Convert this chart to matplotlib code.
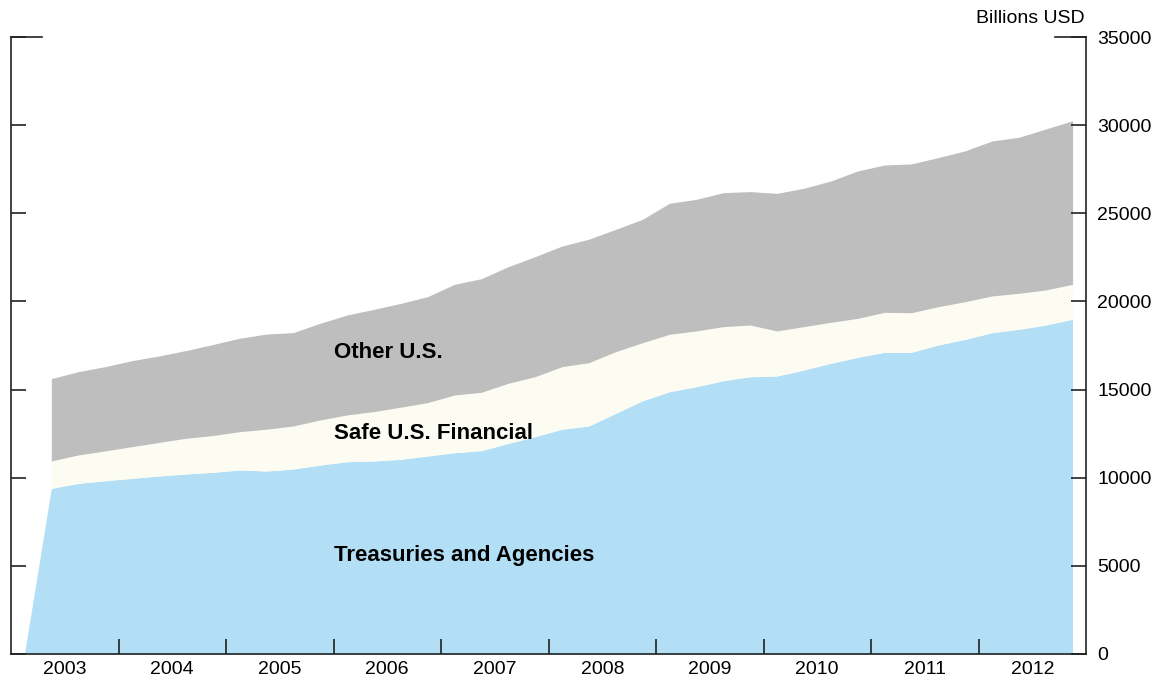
import matplotlib.pyplot as plt
import numpy as np

plt.rcParams['font.family'] = ['Liberation Sans', 'DejaVu Sans']

# Quarterly data, 2003Q1 - 2012Q4 (billions USD)
quarters = [f"{y}Q{q}" for y in range(2003, 2013) for q in range(1, 5)]

treasuries = [0, 9400, 9680, 9830, 9965, 10100, 10210, 10305, 10440, 10380,
              10495, 10720, 10910, 10950, 11045, 11230, 11420, 11535, 11950, 12330,
              12750, 12935, 13655, 14370, 14880, 15165, 15505, 15730, 15770, 16110,
              16490, 16830, 17115, 17115, 17530, 17850, 18230, 18420, 18660, 18990]

safe_financial = [np.nan, 1550, 1610, 1690, 1795, 1900, 2025, 2085, 2170, 2370,
                  2440, 2555, 2650, 2800, 2955, 3030, 3270, 3310, 3405, 3400,
                  3550, 3590, 3495, 3290, 3255, 3160, 3065, 2930, 2555, 2460,
                  2325, 2210, 2265, 2245, 2170, 2135, 2080, 2040, 1990, 1980]

other_us = [np.nan, 4670, 4725, 4780, 4880, 4905, 4975, 5160, 5300, 5400,
            5295, 5485, 5670, 5800, 5890, 6010, 6280, 6445, 6615, 6810,
            6840, 7005, 6940, 7000, 7435, 7465, 7600, 7570, 7805, 7850,
            8015, 8360, 8360, 8440, 8460, 8555, 8790, 8850, 9130, 9280]

series_labels = ["Treasuries and Agencies", "Safe U.S. Financial", "Other U.S."]
colors = ["#b2dff5", "#fcfcf2", "#bebebe"]

# quarter midpoints as decimal years
x = np.array([int(s[:4]) + (int(s[-1]) - 0.5) / 4 for s in quarters])
t = np.array(treasuries, dtype=float)
s = np.array(safe_financial, dtype=float)
o = np.array(other_us, dtype=float)

fig = plt.figure(figsize=(11.63, 6.89), dpi=100)
ax = fig.add_axes([11 / 1163, 35 / 689, 1075 / 1163, 617 / 689])

ax.fill_between(x, 0, t, color=colors[0], lw=0)
ax.fill_between(x, t, t + s, color=colors[1], lw=0)
ax.fill_between(x, t + s, t + s + o, color=colors[2], lw=0)

ax.set_xlim(2003, 2013)
ax.set_ylim(0, 35000)

# series labels inside the areas
ax.text(2006.0, 5600, series_labels[0], fontsize=16, fontweight="bold", va="center")
ax.text(2006.0, 12500, series_labels[1], fontsize=16, fontweight="bold", va="center")
ax.text(2006.0, 17100, series_labels[2], fontsize=16, fontweight="bold", va="center")

# axes styling
ax.spines["top"].set_visible(False)
for side in ["left", "right", "bottom"]:
    ax.spines[side].set_linewidth(1.2)
    ax.spines[side].set_color("#222222")

ax.yaxis.tick_right()
ax.set_yticks(np.arange(0, 35001, 5000))
ax.tick_params(axis="y", which="both", direction="in", length=11, width=1.2,
               left=True, right=True, labelleft=False, labelright=True,
               labelsize=14, pad=8, color="#222222")

ax.set_xticks(np.arange(2004, 2013))
ax.set_xticklabels([])
ax.set_xticks(np.arange(2003, 2013) + 0.5, minor=True)
ax.set_xticklabels([str(y) for y in range(2003, 2013)], minor=True)
ax.tick_params(axis="x", which="major", direction="in", length=11, width=1.2,
               color="#222222")
ax.tick_params(axis="x", which="minor", length=0, labelsize=14, pad=5)

# longer marks at the top of both vertical axes
ax.plot([0, 31 / 1075], [35000, 35000], color="#222222", lw=1.2,
        transform=ax.get_yaxis_transform(), clip_on=False)
ax.plot([1 - 31 / 1075, 1], [35000, 35000], color="#222222", lw=1.2,
        transform=ax.get_yaxis_transform(), clip_on=False)

ax.text(0.9985, 1.016, "Billions USD", transform=ax.transAxes, ha="right",
        va="bottom", fontsize=14)

fig.savefig("out.png", dpi=100)
